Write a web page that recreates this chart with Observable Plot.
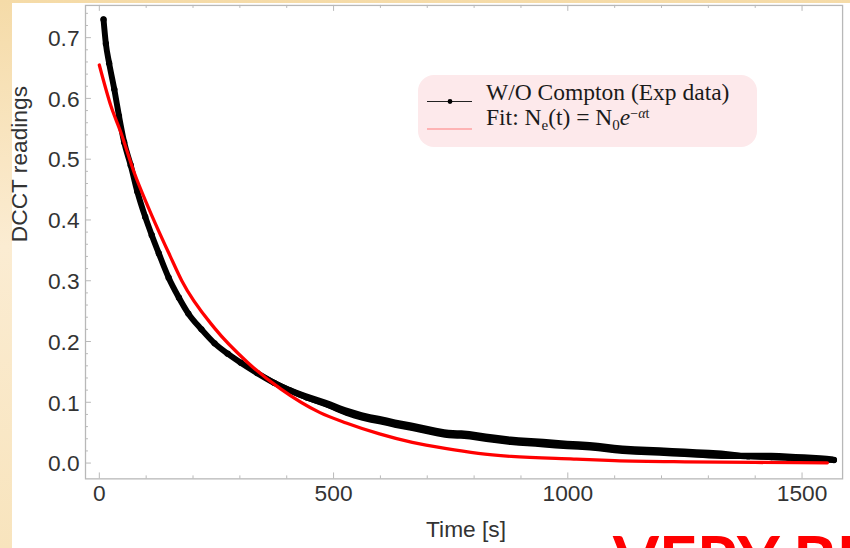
<!DOCTYPE html>
<html>
<head>
<meta charset="utf-8">
<script src="https://cdn.jsdelivr.net/npm/d3@7"></script>
<script src="https://cdn.jsdelivr.net/npm/@observablehq/plot@0.6"></script>
<style>
  html, body { margin: 0; padding: 0; width: 850px; height: 548px; overflow: hidden; }
  body { position: relative; background: linear-gradient(180deg, #f5dba8 0%, #fbecd2 45%, #f8e4bd 100%); }
  #panel { position: absolute; left: 12px; top: 3px; width: 838px; height: 545px; background: #ffffff; }
  #chart { position: absolute; left: 0; top: 0; }
  #overlay { position: absolute; left: 0; top: 0; }
</style>
</head>
<body>
<div id="panel"></div>
<div id="chart"></div>
<svg id="overlay" width="850" height="548">
  <rect x="418" y="75" width="339" height="72" rx="16" ry="16" fill="#fde9eb"></rect>
  <line x1="427" x2="472" y1="101.5" y2="101.5" stroke="#222" stroke-width="1"></line>
  <circle cx="450" cy="101.5" r="2.4" fill="#000"></circle>
  <line x1="427" x2="472" y1="129" y2="129" stroke="#ff7f7f" stroke-width="1.2"></line>
  <text x="486" y="100" font-family="Liberation Serif, Times New Roman, serif" font-size="23.5" fill="#1a1a1a">W/O Compton (Exp data)</text>
  <text x="486" y="124.5" font-family="Liberation Serif, Times New Roman, serif" font-size="23.5" fill="#1a1a1a">Fit: N<tspan font-size="15" baseline-shift="-5">e</tspan>(t) = N<tspan font-size="15" baseline-shift="-5">0</tspan><tspan font-style="italic">e</tspan><tspan font-size="14" baseline-shift="7">−<tspan font-style="italic">α</tspan>t</tspan></text>
  <text x="613" y="585" font-family="Lato, Open Sans, sans-serif" font-weight="700" font-size="66" fill="#ff0000">VERY BIG</text>
</svg>
<script>
// Experimental data (W/O Compton), time in s and DCCT readings
const timeData = [9, 14, 21, 32, 42, 53, 67, 81, 98, 112, 127, 148, 170, 190, 218, 246, 274, 302, 337, 373, 408, 443, 485, 527, 562, 598, 633, 668, 703, 738, 774, 809, 844, 879, 914, 949, 1000, 1048, 1118, 1170, 1224, 1276, 1329, 1385, 1435, 1470, 1505, 1540, 1568];
const dcctData = [0.730, 0.690, 0.658, 0.615, 0.571, 0.528, 0.490, 0.447, 0.405, 0.375, 0.345, 0.305, 0.272, 0.246, 0.220, 0.197, 0.180, 0.165, 0.148, 0.132, 0.119, 0.108, 0.097, 0.084, 0.076, 0.070, 0.064, 0.059, 0.053, 0.048, 0.046, 0.043, 0.039, 0.036, 0.034, 0.032, 0.029, 0.027, 0.021, 0.019, 0.017, 0.015, 0.013, 0.011, 0.010, 0.009, 0.0075, 0.006, 0.005];
// scatter half-width of the noisy band around the data
const noiseData = [0, 0, 0, 0, 0, 0, 0, 0, 0, 0, 0, 0.001, 0.0015, 0.002, 0.0025, 0.003, 0.0035, 0.004, 0.0045, 0.005, 0.0055, 0.006, 0.0065, 0.007, 0.007, 0.007, 0.007, 0.007, 0.007, 0.007, 0.007, 0.007, 0.007, 0.007, 0.007, 0.007, 0.007, 0.007, 0.007, 0.007, 0.007, 0.007, 0.007, 0.005, 0.006, 0.006, 0.006, 0.006, 0.005];

// Fit curve N0 e^{-alpha t}
const fitTime = [0, 25, 46, 74, 105, 151, 176, 246, 316, 387, 471, 527, 598, 668, 738, 809, 879, 1013, 1100, 1250, 1400, 1554];
const fitValue = [0.655, 0.587, 0.544, 0.479, 0.420, 0.341, 0.300, 0.222, 0.166, 0.122, 0.083, 0.066, 0.048, 0.034, 0.024, 0.016, 0.011, 0.0065, 0.004, 0.002, 0.001, 0.0005];

// Ticks
const xMajor = [0, 500, 1000, 1500];
const xMinor = [100, 200, 300, 400, 600, 700, 800, 900, 1100, 1200, 1300, 1400];
const yMajor = [0.0, 0.1, 0.2, 0.3, 0.4, 0.5, 0.6, 0.7];
const yMinor = [0.02, 0.04, 0.06, 0.08, 0.12, 0.14, 0.16, 0.18, 0.22, 0.24, 0.26, 0.28, 0.32, 0.34, 0.36, 0.38, 0.42, 0.44, 0.46, 0.48, 0.52, 0.54, 0.56, 0.58, 0.62, 0.64, 0.66, 0.68, 0.72, 0.74];
const xTitle = "Time [s]";
const yTitle = "DCCT readings";

const exp = timeData.map((t, i) => ({t, v: dcctData[i], n: noiseData[i]}));
const fit = fitTime.map((t, i) => ({t, v: fitValue[i]}));

const W = 860, H = 548, mL = 86, mR = 8, mT = 5, mB = 64;
const plotW = W - mL - mR, plotH = H - mT - mB;
const gray = "#b8b8b8";
const labelColor = "#333";

const chart = Plot.plot({
  width: W, height: H,
  marginLeft: mL, marginRight: mR, marginTop: mT, marginBottom: mB,
  x: {domain: [-29.5, 1586.5], axis: null},
  y: {domain: [-0.026, 0.753], axis: null},
  style: {background: "transparent", fontFamily: "Liberation Sans, Arial, Helvetica, sans-serif", overflow: "visible"},
  marks: [
    Plot.frame({stroke: gray, strokeWidth: 1.3}),
    // bottom ticks (inward)
    Plot.tickX(xMajor, {x: d => d, stroke: gray, insetTop: plotH - 6}),
    Plot.tickX(xMinor, {x: d => d, stroke: gray, insetTop: plotH - 3}),
    // top ticks
    Plot.tickX(xMajor, {x: d => d, stroke: gray, insetBottom: plotH - 6}),
    Plot.tickX(xMinor, {x: d => d, stroke: gray, insetBottom: plotH - 3}),
    // left ticks
    Plot.tickY(yMajor, {y: d => d, stroke: gray, insetRight: plotW - 6}),
    Plot.tickY(yMinor, {y: d => d, stroke: gray, insetRight: plotW - 3}),
    // tick labels
    Plot.text(xMajor, {x: d => d, text: d => String(d), frameAnchor: "bottom", dy: 15.3, fontSize: 23, fill: labelColor, lineAnchor: "middle"}),
    Plot.text(yMajor, {y: d => d, text: d => d.toFixed(1), frameAnchor: "left", dx: -6, dy: 1, textAnchor: "end", fontSize: 23, fill: labelColor, lineAnchor: "middle"}),
    // axis titles
    Plot.text([xTitle], {text: d => d, frameAnchor: "bottom", dx: 2, dy: 51.3, fontSize: 23, fill: labelColor, lineAnchor: "middle"}),
    Plot.text([yTitle], {text: d => d, frameAnchor: "left", dx: -66.7, rotate: -90, fontSize: 23, fill: labelColor, lineAnchor: "middle"}),
    // experimental data band
    Plot.areaY(exp, {x: "t", y1: d => d.v - d.n, y2: d => d.v + d.n, fill: "#000", curve: "monotone-x"}),
    Plot.line(exp, {x: "t", y: "v", stroke: "#000", strokeWidth: 6, strokeLinecap: "round", curve: "monotone-x"}),
    Plot.dot(exp, {x: "t", y: "v", r: 3.2, fill: "#000"}),
    // fit
    Plot.line(fit, {x: "t", y: "v", stroke: "#ff0000", strokeWidth: 3.3, curve: "monotone-x"})
  ]
});
document.getElementById("chart").appendChild(chart);
</script>
</body>
</html>
